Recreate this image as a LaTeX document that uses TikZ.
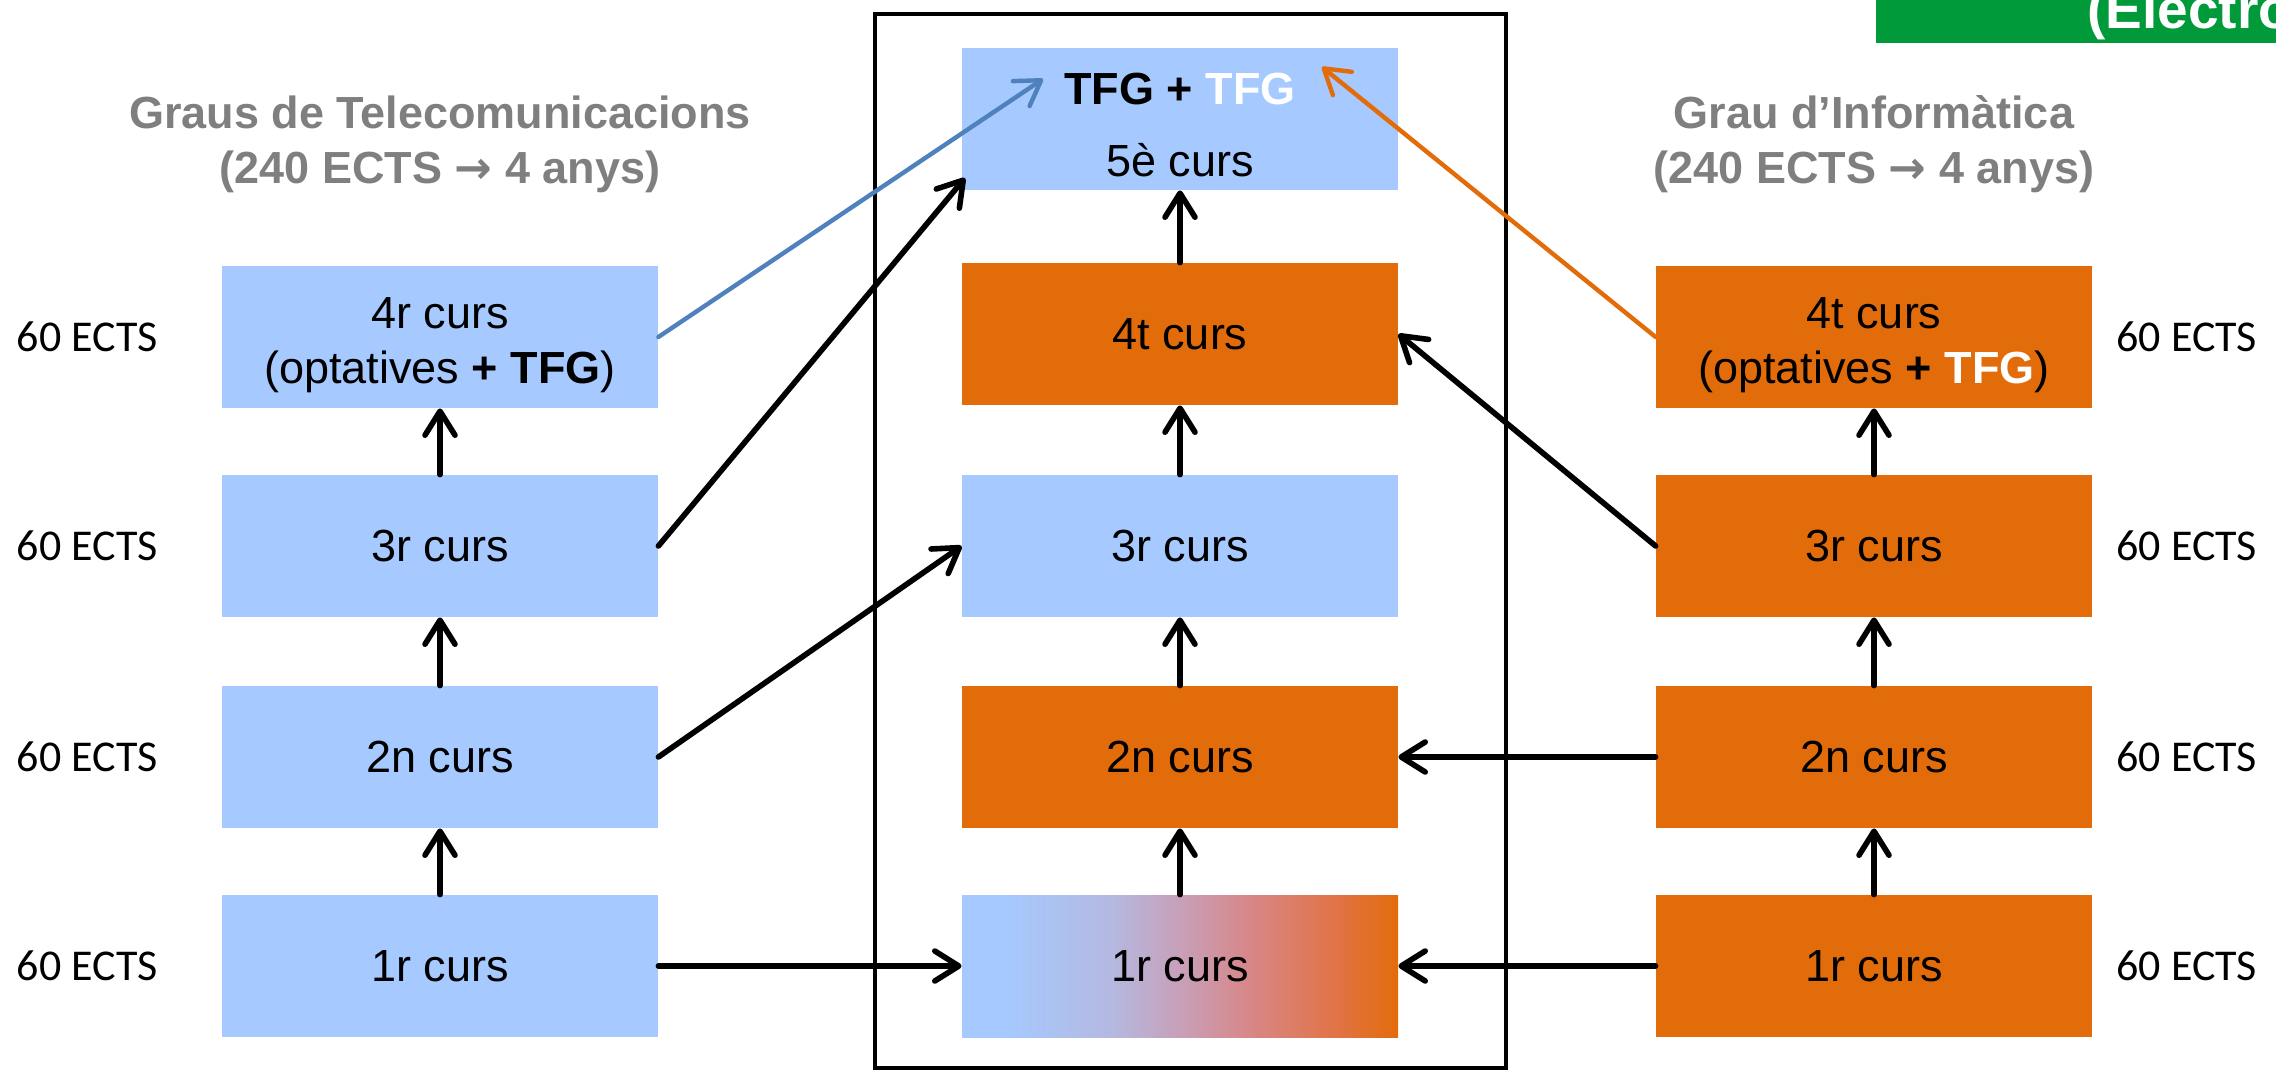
\documentclass[tikz,border=0pt]{standalone}
\usepackage{fontspec}
\setmainfont{Liberation Sans}
\newfontfamily\ectsfont{Carlito}
\newfontfamily\fletxafont{DejaVu Sans}
\usetikzlibrary{arrows.meta,positioning}

\definecolor{blauclar}{RGB}{166,201,255}
\definecolor{taronja}{RGB}{227,108,10}
\definecolor{blaufosc}{RGB}{79,129,189}
\definecolor{gristitol}{RGB}{127,127,127}
\definecolor{verd}{RGB}{0,154,58}

% degradat del primer curs comu
\pgfdeclarehorizontalshading{cursmixt}{100bp}{rgb(0bp)=(0.651,0.788,1);
  rgb(30bp)=(0.651,0.788,1); rgb(42bp)=(0.706,0.725,0.882);
  rgb(50bp)=(0.784,0.627,0.725); rgb(58bp)=(0.843,0.529,0.529);
  rgb(68bp)=(0.882,0.451,0.275); rgb(75bp)=(0.89,0.424,0.039);
  rgb(100bp)=(0.89,0.424,0.039)}

\tikzset{
  curs/.style={fill=blauclar, minimum width=218pt, minimum height=71pt, inner sep=0pt,
    align=center, font=\fontsize{22.5pt}{27.5pt}\selectfont},
  cursinf/.style={curs, fill=taronja},
  ects/.style={font=\ectsfont\fontsize{22pt}{26pt}\selectfont},
  titol/.style={align=center, text=gristitol, font=\bfseries\fontsize{22.5pt}{27.5pt}\selectfont},
  fletxa/.style={-{Straight Barb[length=12pt,width=15pt,round]}, line width=2.8pt, line cap=round},
}

\begin{document}
\begin{tikzpicture}[x=0.5pt,y=-0.5pt]
    \useasboundingbox (0,0) rectangle (2276,1070);
    \clip (0,0) rectangle (2276,1070);

    % banda verda
    \fill[verd] (1876,0) rectangle (2276,43);
    \node[anchor=base west, text=white, font=\bfseries\fontsize{27.5pt}{33pt}\selectfont, inner sep=0pt] (grau) at (2087,29) {(Electro};

    % marc central
    \draw[line width=2pt] (875,14) rectangle (1506,1068);

    % titols
    \node[titol] (hTel) at (440,144) {Graus de Telecomunicacions\\(240 ECTS {\fletxafont →} 4 anys)};
    \node[titol] (hInf) at (1874,144) {Grau d’Informàtica\\(240 ECTS {\fletxafont →} 4 anys)};

    % telecomunicacions
    \node[curs] (t4) at (440,337) {\rule{0pt}{24pt}4r curs\\(optatives \textbf{+ TFG})};
    \node[curs] (t3) at (440,546) {3r curs};
    \node[curs] (t2) at (440,757) {2n curs};
    \node[curs] (t1) at (440,966) {1r curs};

    % doble titulacio
    \node[curs] (c5) at (1180,119) {\rule{0pt}{22pt}\textbf{TFG + \textcolor{white}{TFG}}\\[8.5pt]5è curs};
    \node[cursinf] (c4) at (1180,334) {4t curs};
    \node[curs] (c3) at (1180,546) {3r curs};
    \node[cursinf] (c2) at (1180,757) {2n curs};
    \node[curs, shading=cursmixt] (c1) at (1180,966) {1r curs};

    % informatica
    \node[cursinf] (i4) at (1874,337) {\rule{0pt}{24pt}4t curs\\(optatives \textbf{+ \textcolor{white}{TFG}})};
    \node[cursinf] (i3) at (1874,546) {3r curs};
    \node[cursinf] (i2) at (1874,757) {2n curs};
    \node[cursinf] (i1) at (1874,966) {1r curs};

    % credits
    \node[ects, left=28.5pt of t4] (et4) {60 ECTS};
    \node[ects, left=28.5pt of t3] (et3) {60 ECTS};
    \node[ects, left=28.5pt of t2] (et2) {60 ECTS};
    \node[ects, left=28.5pt of t1] (et1) {60 ECTS};
    \node[ects, right=8.5pt of i4] (ei4) {60 ECTS};
    \node[ects, right=8.5pt of i3] (ei3) {60 ECTS};
    \node[ects, right=8.5pt of i2] (ei2) {60 ECTS};
    \node[ects, right=8.5pt of i1] (ei1) {60 ECTS};

    \coordinate (puntBlau) at (1043,79);
    \coordinate (puntTaronja) at (1322,67);
    \coordinate (puntNegre) at (965,178);

    % fletxes
    \draw[fletxa] (t1) -- (t2);
    \draw[fletxa] (t2) -- (t3);
    \draw[fletxa] (t3) -- (t4);
    \draw[fletxa] (c1) -- (c2);
    \draw[fletxa] (c2) -- (c3);
    \draw[fletxa] (c3) -- (c4);
    \draw[fletxa] (c4) -- (c5);
    \draw[fletxa] (i1) -- (i2);
    \draw[fletxa] (i2) -- (i3);
    \draw[fletxa] (i3) -- (i4);

    \draw[fletxa] (t1.east) -- (c1.west);
    \draw[fletxa] (t2.east) -- (c3.west);
    \draw[fletxa] (t3.east) -- (puntNegre);
    \draw[fletxa, blaufosc, line width=2.2pt] (t4.east) -- (puntBlau);
    \draw[fletxa, taronja, line width=2.2pt] (i4.west) -- (puntTaronja);
    \draw[fletxa] (i3.west) -- (c4.east);
    \draw[fletxa] (i2.west) -- (c2.east);
    \draw[fletxa] (i1.west) -- (c1.east);

\end{tikzpicture}
\end{document}
